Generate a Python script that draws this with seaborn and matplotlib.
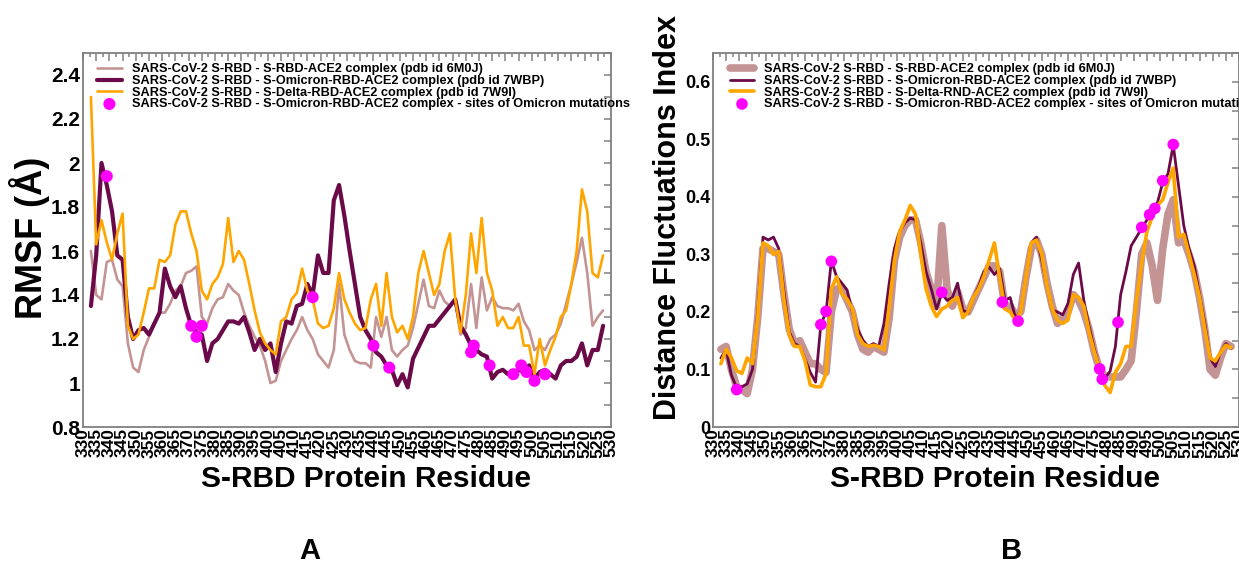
import numpy as np
import pandas as pd
import matplotlib
matplotlib.use("Agg")
import matplotlib.pyplot as plt
from matplotlib.ticker import MultipleLocator, FuncFormatter
import seaborn as sns

# ---------------- data ----------------
# residues sampled every 2 (S-RBD 333-527)
residues = list(range(333, 528, 2))

# panel A : RMSF (A)
rmsf_6m0j = [1.6, 1.4, 1.38, 1.55, 1.56, 1.47, 1.44, 1.18, 1.07, 1.05,
             1.15, 1.21, 1.27, 1.32, 1.32, 1.36, 1.42, 1.44, 1.5, 1.51,
             1.53, 1.3, 1.27, 1.34, 1.38, 1.39, 1.45, 1.42, 1.4, 1.32,
             1.26, 1.21, 1.17, 1.1, 1.0, 1.01, 1.1, 1.15, 1.2, 1.24,
             1.3, 1.24, 1.2, 1.13, 1.1, 1.07, 1.15, 1.45, 1.22, 1.15,
             1.1, 1.09, 1.09, 1.07, 1.3, 1.21, 1.3, 1.15, 1.12, 1.15,
             1.17, 1.25, 1.36, 1.47, 1.35, 1.34, 1.42, 1.37, 1.35, 1.38,
             1.22, 1.25, 1.45, 1.25, 1.48, 1.33, 1.39, 1.35, 1.34, 1.34,
             1.33, 1.36, 1.28, 1.24, 1.15, 1.17, 1.15, 1.2, 1.22, 1.27,
             1.36, 1.45, 1.55, 1.66, 1.5, 1.26, 1.3, 1.33]
rmsf_7wbp = [1.35, 1.58, 2.0, 1.9, 1.78, 1.58, 1.56, 1.3, 1.2, 1.24,
             1.25, 1.22, 1.27, 1.32, 1.52, 1.44, 1.39, 1.44, 1.34, 1.26,
             1.23, 1.22, 1.1, 1.18, 1.2, 1.24, 1.28, 1.28, 1.27, 1.3,
             1.23, 1.15, 1.2, 1.15, 1.18, 1.05, 1.18, 1.28, 1.27, 1.35,
             1.36, 1.45, 1.4, 1.58, 1.5, 1.5, 1.83, 1.9, 1.76, 1.6,
             1.45, 1.3, 1.24, 1.2, 1.14, 1.12, 1.08, 1.06, 0.99, 1.04,
             0.98, 1.11, 1.16, 1.21, 1.26, 1.26, 1.29, 1.32, 1.35, 1.38,
             1.26, 1.22, 1.17, 1.15, 1.13, 1.12, 1.02, 1.05, 1.06, 1.04,
             1.05, 1.06, 1.05, 1.08, 1.02, 1.05, 1.06, 1.04, 1.02, 1.08,
             1.1, 1.1, 1.12, 1.18, 1.08, 1.15, 1.15, 1.26]
rmsf_7w9i = [2.3, 1.63, 1.74, 1.64, 1.56, 1.68, 1.77, 1.26, 1.2, 1.22,
             1.32, 1.43, 1.43, 1.56, 1.55, 1.58, 1.72, 1.78, 1.78, 1.68,
             1.6, 1.42, 1.38, 1.45, 1.48, 1.54, 1.75, 1.55, 1.6, 1.56,
             1.45, 1.33, 1.23, 1.18, 1.15, 1.13, 1.28, 1.3, 1.38, 1.41,
             1.52, 1.42, 1.38, 1.27, 1.25, 1.26, 1.34, 1.5, 1.38, 1.32,
             1.27, 1.24, 1.25, 1.38, 1.45, 1.26, 1.5, 1.3, 1.23, 1.26,
             1.2, 1.3, 1.5, 1.6, 1.5, 1.4, 1.45, 1.6, 1.68, 1.38,
             1.23, 1.4, 1.68, 1.5, 1.75, 1.5, 1.42, 1.26, 1.3, 1.25,
             1.25, 1.3, 1.17, 1.17, 1.04, 1.2, 1.08, 1.15, 1.21, 1.3,
             1.33, 1.45, 1.6, 1.88, 1.78, 1.5, 1.48, 1.58]

# panel B : distance fluctuations index
dfi_6m0j = [0.135, 0.14, 0.1, 0.07, 0.065, 0.058, 0.1, 0.19, 0.31, 0.31,
            0.305, 0.3, 0.23, 0.17, 0.145, 0.15, 0.13, 0.11, 0.11, 0.1,
            0.095, 0.2, 0.24, 0.24, 0.22, 0.2, 0.16, 0.135, 0.13, 0.14,
            0.135, 0.13, 0.19, 0.29, 0.33, 0.35, 0.36, 0.36, 0.32, 0.27,
            0.24, 0.21, 0.35, 0.24, 0.21, 0.235, 0.205, 0.2, 0.22, 0.24,
            0.26, 0.28, 0.28, 0.27, 0.21, 0.21, 0.195, 0.2, 0.26, 0.31,
            0.325, 0.3, 0.25, 0.21, 0.18, 0.19, 0.2, 0.23, 0.22, 0.2,
            0.17, 0.13, 0.1, 0.088, 0.087, 0.087, 0.087, 0.1, 0.115, 0.2,
            0.3, 0.32, 0.28, 0.22, 0.31, 0.37, 0.395, 0.32, 0.325, 0.3,
            0.27, 0.225, 0.17, 0.1, 0.09, 0.12, 0.145, 0.14]
dfi_7wbp = [0.12, 0.134, 0.09, 0.068, 0.07, 0.075, 0.1, 0.2, 0.33, 0.325,
            0.33, 0.31, 0.235, 0.165, 0.145, 0.14, 0.118, 0.095, 0.078, 0.178,
            0.2, 0.289, 0.261, 0.25, 0.238, 0.2, 0.17, 0.151, 0.14, 0.145,
            0.14, 0.18, 0.25, 0.31, 0.34, 0.355, 0.363, 0.36, 0.32, 0.27,
            0.24, 0.205, 0.232, 0.22, 0.225, 0.25, 0.203, 0.198, 0.225, 0.244,
            0.27, 0.278, 0.265, 0.275, 0.22, 0.225, 0.19, 0.2, 0.26, 0.32,
            0.33, 0.29, 0.245, 0.203, 0.2, 0.195, 0.215, 0.265, 0.285, 0.22,
            0.175, 0.135, 0.1, 0.085, 0.097, 0.14, 0.23, 0.27, 0.315, 0.33,
            0.345, 0.36, 0.377, 0.39, 0.425, 0.44, 0.49, 0.42, 0.35, 0.31,
            0.28, 0.23, 0.18, 0.12, 0.105, 0.13, 0.145, 0.137]
dfi_7w9i = [0.11, 0.135, 0.12, 0.098, 0.093, 0.12, 0.11, 0.19, 0.32, 0.315,
            0.3, 0.305, 0.22, 0.16, 0.14, 0.14, 0.115, 0.073, 0.07, 0.07,
            0.093, 0.24, 0.261, 0.232, 0.222, 0.205, 0.16, 0.145, 0.14, 0.142,
            0.14, 0.134, 0.21, 0.29, 0.34, 0.36, 0.385, 0.37, 0.3, 0.24,
            0.21, 0.192, 0.205, 0.21, 0.22, 0.225, 0.19, 0.2, 0.225, 0.24,
            0.262, 0.29, 0.32, 0.26, 0.205, 0.2, 0.185, 0.2, 0.26, 0.32,
            0.325, 0.3, 0.245, 0.205, 0.185, 0.18, 0.186, 0.23, 0.225, 0.21,
            0.165, 0.13, 0.1, 0.072, 0.06, 0.095, 0.11, 0.14, 0.14, 0.22,
            0.285, 0.34, 0.365, 0.385, 0.395, 0.425, 0.45, 0.33, 0.335, 0.3,
            0.265, 0.225, 0.17, 0.12, 0.115, 0.13, 0.142, 0.138]

# Omicron mutation sites
mut_sites = [339, 371, 373, 375, 417, 440, 446, 477, 478, 484, 493, 496, 498, 501, 505]
rmsf_mut = [1.94, 1.26, 1.21, 1.26, 1.39, 1.17, 1.07, 1.14, 1.17, 1.08, 1.04, 1.08, 1.05, 1.01, 1.04]
dfi_mut = [0.065, 0.178, 0.201, 0.288, 0.234, 0.217, 0.184, 0.101, 0.083, 0.182,
           0.347, 0.369, 0.380, 0.428, 0.491]

labels_a = ["SARS-CoV-2 S-RBD - S-RBD-ACE2 complex (pdb id 6M0J)",
            "SARS-CoV-2 S-RBD - S-Omicron-RBD-ACE2 complex (pdb id 7WBP)",
            "SARS-CoV-2 S-RBD - S-Delta-RBD-ACE2 complex (pdb id 7W9I)",
            "SARS-CoV-2 S-RBD - S-Omicron-RBD-ACE2 complex - sites of Omicron mutations"]
labels_b = ["SARS-CoV-2 S-RBD - S-RBD-ACE2 complex (pdb id 6M0J)",
            "SARS-CoV-2 S-RBD - S-Omicron-RBD-ACE2 complex (pdb id 7WBP)",
            "SARS-CoV-2 S-RBD - S-Delta-RND-ACE2 complex (pdb id 7W9I)",
            "SARS-CoV-2 S-RBD - S-Omicron-RBD-ACE2 complex - sites of Omicron mutations"]

# ---------------- style ----------------
sns.set_theme(style="white")
plt.rcParams["font.family"] = ["Liberation Sans", "DejaVu Sans"]
plt.rcParams["font.weight"] = "bold"
plt.rcParams["text.color"] = "black"
plt.rcParams["axes.labelcolor"] = "black"

C_PINK = "#c49494"
C_MAROON = "#6b0a48"
C_ORANGE = "#ffa500"
C_MAG = "#ff00ff"
C_AX = "#808080"

W, H = 1239, 566
fig = plt.figure(figsize=(W / 100, H / 100), dpi=100)
axA = fig.add_axes([83 / W, 1 - 427 / H, 528 / W, 374 / H])
axB = fig.add_axes([713 / W, 1 - 427 / H, 526 / W, 374 / H])

# ---------------- panel A ----------------
sns.lineplot(x=residues, y=rmsf_6m0j, ax=axA, color=C_PINK, lw=1.9, label=labels_a[0])
sns.lineplot(x=residues, y=rmsf_7wbp, ax=axA, color=C_MAROON, lw=3.0, label=labels_a[1])
sns.lineplot(x=residues, y=rmsf_7w9i, ax=axA, color=C_ORANGE, lw=1.9, label=labels_a[2])
sns.scatterplot(x=mut_sites, y=rmsf_mut, ax=axA, color=C_MAG, s=75, edgecolor="none",
                zorder=5, label=labels_a[3])
axA.set_xlim(330, 530)
axA.set_ylim(0.8, 2.5)
axA.yaxis.set_major_locator(MultipleLocator(0.2))
axA.yaxis.set_minor_locator(MultipleLocator(0.1))

# ---------------- panel B ----------------
sns.lineplot(x=residues, y=dfi_6m0j, ax=axB, color=C_PINK, lw=5.5, label=labels_b[0])
sns.lineplot(x=residues, y=dfi_7wbp, ax=axB, color=C_MAROON, lw=2.0, label=labels_b[1])
sns.lineplot(x=residues, y=dfi_7w9i, ax=axB, color=C_ORANGE, lw=2.6, label=labels_b[2])
sns.scatterplot(x=mut_sites, y=dfi_mut, ax=axB, color=C_MAG, s=70, edgecolor="none",
                zorder=5, label=labels_b[3])
axB.set_xlim(330, 530)
axB.set_ylim(0, 0.65)
axB.yaxis.set_major_locator(MultipleLocator(0.1))
axB.yaxis.set_minor_locator(MultipleLocator(0.05))

fmt = FuncFormatter(lambda v, p: f"{v:g}")
for ax in (axA, axB):
    ax.xaxis.set_major_locator(MultipleLocator(5))
    ax.xaxis.set_minor_locator(MultipleLocator(2.5))
    ax.yaxis.set_major_formatter(fmt)
    for sp in ax.spines.values():
        sp.set_color(C_AX)
        sp.set_linewidth(1.3)
    ax.tick_params(which="both", direction="in", top=True, right=True,
                   color=C_AX, width=1.1, labelcolor="black")
    ax.tick_params(axis="x", which="major", length=6, pad=1, labelsize=12.5,
                   labelrotation=90)
    ax.tick_params(axis="x", which="minor", length=3)
    ax.tick_params(axis="y", which="both", length=5, pad=2)
    for t in ax.get_xticklabels() + ax.get_yticklabels():
        t.set_fontweight("bold")
    ax.set_xlabel("S-RBD Protein Residue", fontsize=21.5, fontweight="bold", va="center")
    ax.xaxis.set_label_coords(0.536, -0.138)
    leg = ax.legend(loc="upper left", frameon=False,
                    prop={"weight": "bold", "size": 9.2}, handlelength=1.9,
                    handletextpad=0.8, labelspacing=-0.03, borderpad=0,
                    borderaxespad=0)
    for t in leg.get_texts():
        t.set_color("black")

axA.tick_params(axis="y", labelsize=15)
axB.tick_params(axis="y", labelsize=13)

axA.legend_.set_bbox_to_anchor((0.027, 0.972), transform=axA.transAxes)
axB.legend_.set_bbox_to_anchor((0.032, 0.972), transform=axB.transAxes)

axA.set_ylabel("RMSF (Å)", fontsize=26, fontweight="bold", va="center")
axA.yaxis.set_label_coords(-0.102, 0.505)
axB.set_ylabel("Distance Fluctuations Index", fontsize=22, fontweight="bold", va="center")
axB.yaxis.set_label_coords(-0.085, 0.561)

fig.text(310 / W, 1 - 551 / H, "A", fontsize=21, fontweight="bold", ha="center", va="center")
fig.text(1012 / W, 1 - 551 / H, "B", fontsize=21, fontweight="bold", ha="center", va="center")

fig.savefig("out.png", dpi=100)
